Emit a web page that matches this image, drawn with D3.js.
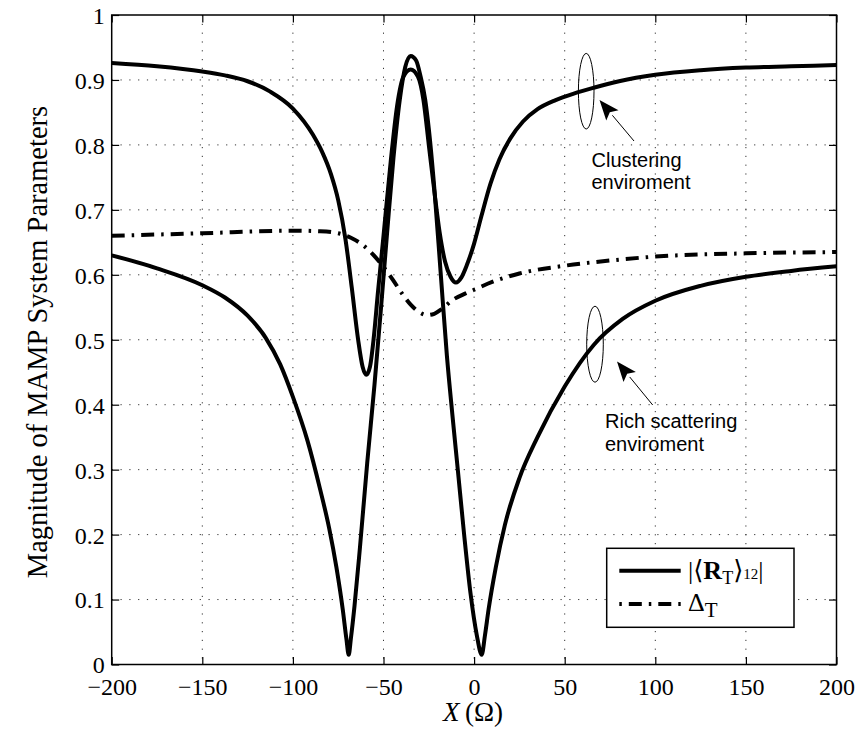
<!DOCTYPE html>
<html>
<head>
<meta charset="utf-8">
<script src="https://cdn.jsdelivr.net/npm/d3@7"></script>
<style>
  html, body { margin: 0; padding: 0; background: #fff; }
  svg { display: block; }
</style>
</head>
<body>
<div id="chart"></div>
<script>
// ---------- data ----------
const xTicks = [-200, -150, -100, -50, 0, 50, 100, 150, 200];
const yTicks = [0, 0.1, 0.2, 0.3, 0.4, 0.5, 0.6, 0.7, 0.8, 0.9, 1];
const xTickLabels = ["\u2212200", "\u2212150", "\u2212100", "\u221250", "0", "50", "100", "150", "200"];
const yTickLabels = ["0", "0.1", "0.2", "0.3", "0.4", "0.5", "0.6", "0.7", "0.8", "0.9", "1"];

// |<R_T>12| clustering environment
const clusterX = [-200, -175, -150, -137.5, -125, -112.5, -100, -89, -84, -79, -75, -71, -67.5, -64, -61.5, -59.5, -57.5, -55.5, -53, -50, -46, -42.5, -39, -35, -31, -28, -25, -22, -19, -16, -13, -10, -7, -4, 0, 4, 9, 14, 20, 27, 35, 45, 55, 66, 80, 100, 125, 150, 175, 200];
const clusterY = [0.926, 0.921, 0.913, 0.907, 0.898, 0.882, 0.856, 0.816, 0.790, 0.755, 0.715, 0.655, 0.580, 0.500, 0.458, 0.446, 0.458, 0.500, 0.575, 0.660, 0.775, 0.860, 0.905, 0.916, 0.905, 0.870, 0.800, 0.730, 0.665, 0.620, 0.597, 0.588, 0.596, 0.615, 0.648, 0.690, 0.740, 0.778, 0.810, 0.836, 0.855, 0.869, 0.879, 0.888, 0.898, 0.908, 0.915, 0.919, 0.921, 0.923];

// |<R_T>12| rich scattering environment
const richX = [-200, -175, -150, -137.5, -125, -115, -107, -100, -92, -85, -80, -76, -72.5, -70.5, -69.2, -68, -66, -63, -59, -55, -51.5, -48, -44.5, -41, -38, -35, -32, -29.5, -27, -25, -22, -18.5, -15, -12, -9, -5.5, -2, 1.5, 4.2, 6, 8, 12, 17, 25, 35, 50, 66, 82, 100, 125, 150, 175, 200];
const richY = [0.630, 0.610, 0.584, 0.565, 0.537, 0.503, 0.462, 0.412, 0.345, 0.270, 0.210, 0.150, 0.085, 0.040, 0.015, 0.040, 0.090, 0.180, 0.310, 0.430, 0.545, 0.665, 0.780, 0.870, 0.920, 0.937, 0.930, 0.905, 0.870, 0.825, 0.735, 0.605, 0.475, 0.385, 0.300, 0.200, 0.110, 0.045, 0.015, 0.045, 0.085, 0.150, 0.215, 0.287, 0.350, 0.428, 0.492, 0.532, 0.560, 0.583, 0.597, 0.606, 0.613];

// Delta_T
const deltaX = [-200, -150, -100, -85, -75, -68, -62, -56, -50, -45, -40, -35, -30, -26, -22, -18, -12, -5, 0, 10, 25, 50, 75, 100, 150, 200];
const deltaY = [0.660, 0.664, 0.668, 0.667, 0.664, 0.657, 0.647, 0.632, 0.612, 0.593, 0.572, 0.554, 0.542, 0.538, 0.540, 0.547, 0.561, 0.571, 0.577, 0.589, 0.602, 0.614, 0.622, 0.628, 0.633, 0.635];

const yLabel = "Magnitude of MAMP System Parameters";
const annoCluster = ["Clustering", "enviroment"];
const annoRich = ["Rich scattering", "enviroment"];

// ---------- layout ----------
const W = 856, H = 730;
const L = 111.7, R = 836.5, T = 15, B = 664.5;

const svg = d3.select("#chart").append("svg")
  .attr("width", W).attr("height", H)
  .attr("viewBox", `0 0 ${W} ${H}`);

const x = d3.scaleLinear().domain([-200, 200]).range([L, R]);
const y = d3.scaleLinear().domain([0, 1]).range([B, T]);

const serif = "'Liberation Serif', 'DejaVu Serif', serif";
const sans = "'Liberation Sans', Arial, sans-serif";

// ---------- grid ----------
const grid = svg.append("g").attr("class", "grid");
grid.selectAll("line.vx").data(xTicks.slice(1, -1)).join("line")
  .attr("x1", d => x(d)).attr("x2", d => x(d))
  .attr("y1", T).attr("y2", B)
  .attr("stroke", "#333").attr("stroke-width", 1)
  .attr("stroke-dasharray", "1.2,7.6");
grid.selectAll("line.hy").data(yTicks.slice(1, -1)).join("line")
  .attr("y1", d => y(d)).attr("y2", d => y(d))
  .attr("x1", L).attr("x2", R)
  .attr("stroke", "#333").attr("stroke-width", 1)
  .attr("stroke-dasharray", "1.2,7.6");

// ---------- curves ----------
svg.append("clipPath").attr("id", "clip")
  .append("rect").attr("x", L).attr("y", T).attr("width", R - L).attr("height", B - T);

const line = d3.line()
  .x(d => x(d[0])).y(d => y(d[1]))
  .curve(d3.curveMonotoneX);

const curves = svg.append("g").attr("clip-path", "url(#clip)");
curves.append("path")
  .datum(d3.zip(deltaX, deltaY))
  .attr("d", line).attr("fill", "none").attr("stroke", "#000")
  .attr("stroke-width", 4).attr("stroke-dasharray", "13,7,2.5,7");
curves.append("path")
  .datum(d3.zip(richX, richY))
  .attr("d", line).attr("fill", "none").attr("stroke", "#000")
  .attr("stroke-width", 4).attr("stroke-linejoin", "round");
curves.append("path")
  .datum(d3.zip(clusterX, clusterY))
  .attr("d", line).attr("fill", "none").attr("stroke", "#000")
  .attr("stroke-width", 4).attr("stroke-linejoin", "round");

// ---------- axes ----------
const tickLen = 7.5;
const axB = svg.append("g").attr("transform", `translate(0,${B})`)
  .call(d3.axisBottom(x).tickValues(xTicks).tickSize(-tickLen).tickPadding(13)
    .tickFormat((d, i) => xTickLabels[i]));
const axT = svg.append("g").attr("transform", `translate(0,${T})`)
  .call(d3.axisTop(x).tickValues(xTicks).tickSize(-tickLen).tickFormat(""));
const axLf = svg.append("g").attr("transform", `translate(${L},0)`)
  .call(d3.axisLeft(y).tickValues(yTicks).tickSize(-tickLen).tickPadding(7)
    .tickFormat((d, i) => yTickLabels[i]));
const axRt = svg.append("g").attr("transform", `translate(${R},0)`)
  .call(d3.axisRight(y).tickValues(yTicks).tickSize(-tickLen).tickFormat(""));

[axB, axT, axLf, axRt].forEach(a => {
  a.select(".domain").remove();
  a.selectAll(".tick line").attr("stroke", "#000").attr("stroke-width", 1.2);
  a.selectAll("text").attr("fill", "#000").attr("font-family", serif).attr("font-size", 24);
});
axB.selectAll("text").attr("dy", "0.71em");
axLf.selectAll("text").attr("dy", "0.35em");

svg.append("rect").attr("x", L).attr("y", T).attr("width", R - L).attr("height", B - T)
  .attr("fill", "none").attr("stroke", "#000").attr("stroke-width", 1.5);

// ---------- axis labels ----------
svg.append("text")
  .attr("transform", `translate(47,342) rotate(-90)`)
  .attr("text-anchor", "middle")
  .attr("font-family", serif).attr("font-size", 28.5).attr("fill", "#000")
  .text(yLabel);

const xl = svg.append("text")
  .attr("x", 473).attr("y", 721)
  .attr("text-anchor", "middle")
  .attr("font-family", serif).attr("font-size", 27).attr("fill", "#000");
xl.append("tspan").attr("font-style", "italic").text("X");
xl.append("tspan").text("\u2009(\u03A9)");

// ---------- legend ----------
const lg = svg.append("g");
lg.append("rect").attr("x", 606.7).attr("y", 548.3).attr("width", 187.3).attr("height", 79)
  .attr("fill", "#fff").attr("stroke", "#000").attr("stroke-width", 1.5);
lg.append("line").attr("x1", 619.3).attr("x2", 680.7).attr("y1", 570.7).attr("y2", 570.7)
  .attr("stroke", "#000").attr("stroke-width", 4);
lg.append("line").attr("x1", 619.3).attr("x2", 680.7).attr("y1", 604).attr("y2", 604)
  .attr("stroke", "#000").attr("stroke-width", 4).attr("stroke-dasharray", "2.5,7,13,7");

const t1 = lg.append("text").attr("x", 688).attr("y", 579)
  .attr("font-family", serif).attr("font-size", 26).attr("fill", "#000");
t1.append("tspan").text("|\u27E8");
t1.append("tspan").attr("font-weight", "bold").text("R");
t1.append("tspan").attr("font-size", 18).attr("dy", 5).text("T");
t1.append("tspan").attr("dy", -5).text("\u27E9");
t1.append("tspan").attr("font-size", 15).text("12");
t1.append("tspan").text("|");

const t2 = lg.append("text").attr("x", 688).attr("y", 611)
  .attr("font-family", serif).attr("font-size", 26).attr("fill", "#000");
t2.append("tspan").text("\u0394");
t2.append("tspan").attr("font-size", 21).attr("dy", 6).text("T");

// ---------- annotations ----------
function arrow(x1, y1, x2, y2) {
  // x1,y1 tail ; x2,y2 tip
  const g = svg.append("g");
  const ang = Math.atan2(y2 - y1, x2 - x1);
  const hl = 20, hw = 8;
  const bx = x2 - hl * Math.cos(ang), by = y2 - hl * Math.sin(ang);
  g.append("line").attr("x1", x1).attr("y1", y1).attr("x2", bx).attr("y2", by)
    .attr("stroke", "#000").attr("stroke-width", 1);
  const px = -Math.sin(ang), py = Math.cos(ang);
  const pts = [[x2, y2], [bx + hw * px, by + hw * py], [bx + 4 * Math.cos(ang), by + 4 * Math.sin(ang)], [bx - hw * px, by - hw * py]];
  g.append("path").attr("d", "M" + pts.map(p => p.join(",")).join("L") + "Z").attr("fill", "#000");
}

svg.append("ellipse").attr("cx", 586.2).attr("cy", 91.2).attr("rx", 7.8).attr("ry", 37.8)
  .attr("fill", "none").attr("stroke", "#000").attr("stroke-width", 1);
arrow(634, 141, 599.5, 100);
svg.append("g").selectAll("text").data(annoCluster).join("text")
  .attr("x", 591.5).attr("y", (d, i) => 166.7 + i * 22)
  .attr("font-family", sans).attr("font-size", 20).attr("fill", "#000")
  .text(d => d);

svg.append("ellipse").attr("cx", 595).attr("cy", 344.2).attr("rx", 8.3).attr("ry", 38)
  .attr("fill", "none").attr("stroke", "#000").attr("stroke-width", 1);
arrow(652.7, 405, 617, 361.5);
svg.append("g").selectAll("text").data(annoRich).join("text")
  .attr("x", 605).attr("y", (d, i) => 428.3 + i * 23)
  .attr("font-family", sans).attr("font-size", 20).attr("fill", "#000")
  .text(d => d);
</script>
</body>
</html>
